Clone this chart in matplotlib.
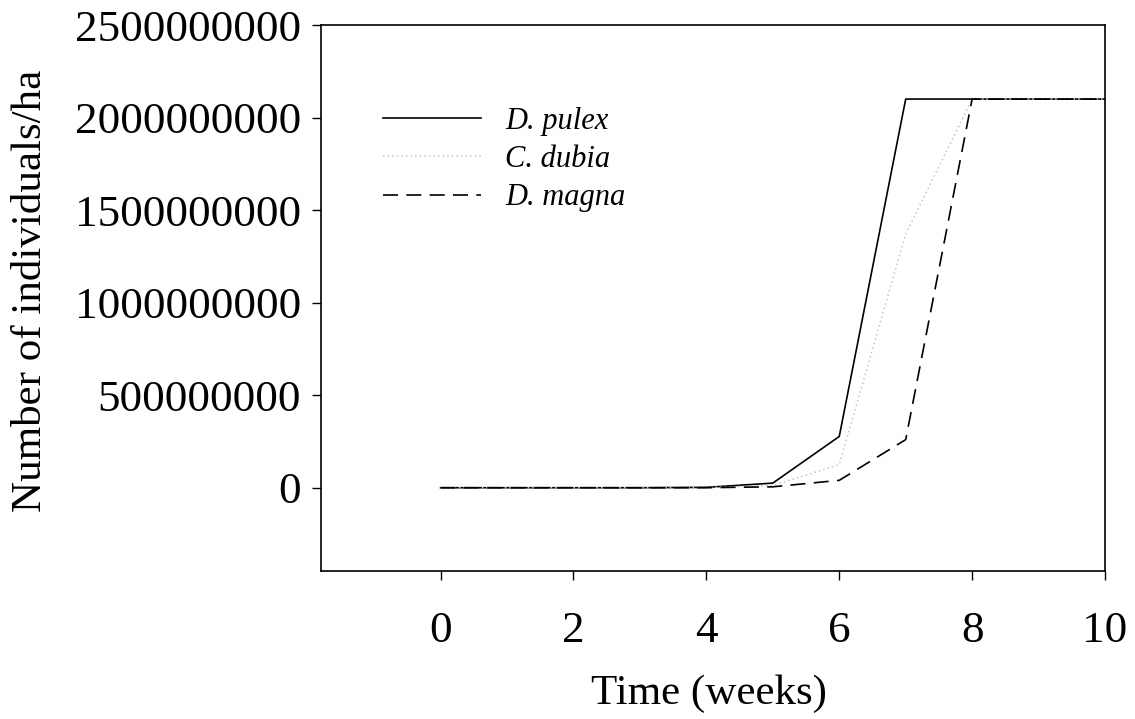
import matplotlib.pyplot as plt
import numpy as np
from matplotlib.ticker import StrMethodFormatter

# data (weeks 0..10)
weeks = [0, 1, 2, 3, 4, 5, 6, 7, 8, 9, 10]
d_pulex = [0, 0, 0, 0, 2e6, 2.5e7, 2.77e8, 2.1e9, 2.1e9, 2.1e9, 2.1e9]
c_dubia = [0, 0, 0, 0, 1e6, 1.2e7, 1.25e8, 1.37e9, 2.1e9, 2.1e9, 2.1e9]
d_magna = [0, 0, 0, 0, 2e5, 5e6, 4e7, 2.6e8, 2.1e9, 2.1e9, 2.1e9]
species = ['D. pulex', 'C. dubia', 'D. magna']

x_ticks = [0, 2, 4, 6, 8, 10]
y_ticks = [0, 5e8, 1e9, 1.5e9, 2e9, 2.5e9]


def main():
    plt.rcParams['font.family'] = 'Liberation Serif'

    fig = plt.figure(figsize=(11.35, 7.19), dpi=100)
    ax = fig.add_axes([0.2828, 0.2058, 0.6908, 0.7594])

    ax.plot(weeks, d_pulex, color='black', lw=1.2, label=species[0])
    ax.plot(weeks, c_dubia, color='#c4c4c4', lw=1.1, linestyle=(0, (1, 2)),
            label=species[1])
    ax.plot(weeks, d_magna, color='black', lw=1.2, linestyle=(0, (9, 5)),
            label=species[2])

    ax.set_xlim(-1.8, 10)
    ax.set_ylim(-4.5e8, 2.5e9)
    ax.set_xticks(x_ticks)
    ax.set_yticks(y_ticks)
    ax.yaxis.set_major_formatter(StrMethodFormatter('{x:.0f}'))

    ax.tick_params(axis='x', direction='out', length=6.5, width=1,
                   pad=22, labelsize=32.5)
    ax.tick_params(axis='y', direction='out', length=6.5, width=1,
                   pad=8, labelsize=32.5)
    for s in ax.spines.values():
        s.set_linewidth(1.2)

    ax.set_xlabel('Time (weeks)', fontsize=31)
    ax.set_ylabel('Number of individuals/ha', fontsize=31)
    ax.xaxis.set_label_coords(0.495, -0.19)
    ax.yaxis.set_label_coords(-0.345, 0.513)

    ax.legend(loc='upper left', bbox_to_anchor=(0.079, 0.85),
              frameon=False, prop={'style': 'italic', 'size': 22},
              handlelength=3.2, handletextpad=0.8, labelspacing=0.3,
              borderpad=0, borderaxespad=0)

    fig.savefig('out.png', dpi=100)


if __name__ == '__main__':
    main()
